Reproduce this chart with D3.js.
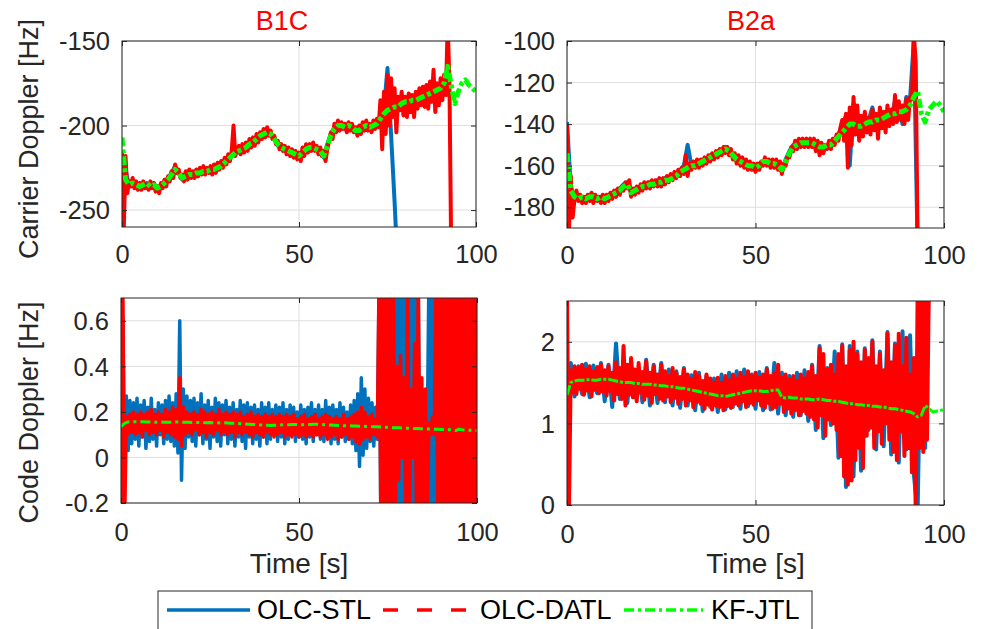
<!DOCTYPE html>
<html>
<head>
<meta charset="utf-8">
<script src="https://cdn.jsdelivr.net/npm/d3@7"></script>
<style>
  body { margin: 0; background: #fff; }
  svg { display: block; }
  text { font-family: "Liberation Sans", Arial, Helvetica, sans-serif; fill: #262626; }
</style>
</head>
<body>
<svg id="chart" width="982" height="629"></svg>
<script>
// ---- tick labels -------------------------------------------------------
const timeTicks = [0, 50, 100];
const b1cCarrierTicks = [-250, -200, -150];
const b2aCarrierTicks = [-180, -160, -140, -120, -100];
const b1cCodeTicks = [-0.2, 0, 0.2, 0.4, 0.6];
const b2aCodeTicks = [0, 1, 2];

const seriesNames = ["OLC-STL", "OLC-DATL", "KF-JTL"];
const panelTitles = ["B1C", "B2a"];

// ---- B1C carrier Doppler [Hz] -------------------------------------------
// OLC-STL, one sample per second
const b1cCarrierStl = [
  -250, -226, -236, -234, -237, -235, -236, -234, -237, -234,
  -238, -235, -233, -231, -228, -224, -228, -232, -229, -230,
  -228, -229, -227, -228, -226, -228, -225, -226, -223, -223,
  -219, -218, -213, -216, -213, -214, -210, -211, -207, -207,
  -204, -203, -206, -207, -212, -212, -215, -214, -217, -216,
  -219, -215, -215, -212, -214, -213, -216, -219, -211, -205,
  -201, -201, -199, -202, -199, -202, -202, -204, -200, -201,
  -200, -201, -198, -195, -190, -166, -205, -245, -290
];
// OLC-DATL, two samples per second
const b1cCarrierDatl = [
  -215, -262, -218, -240, -233, -236, -231, -237, -233, -238,
  -234, -238, -233, -237, -235, -238, -233, -237, -234, -239,
  -236, -240, -234, -237, -232, -236, -230, -233, -227, -231,
  -223, -228, -226, -231, -229, -233, -227, -232, -226, -231,
  -227, -231, -226, -230, -225, -229, -224, -229, -225, -228,
  -224, -229, -223, -228, -222, -226, -221, -225, -219, -223,
  -217, -221, -215, -200, -218, -214, -212, -217, -211, -216,
  -210, -215, -208, -213, -207, -212, -205, -210, -204, -208,
  -202, -207, -201, -206, -203, -208, -206, -211, -209, -214,
  -211, -215, -212, -217, -213, -218, -214, -219, -215, -220,
  -216, -221, -213, -218, -211, -216, -211, -215, -210, -215,
  -212, -217, -213, -218, -215, -221, -214, -209, -204, -208,
  -199, -204, -197, -203, -198, -202, -199, -204, -198, -203,
  -199, -204, -201, -206, -200, -205, -198, -203, -197, -203,
  -199, -204, -197, -202, -196, -201, -185, -214, -180, -205,
  -170, -200, -172, -195, -178, -204, -183, -191, -180, -194,
  -183, -195, -181, -192, -182, -195, -180, -190, -178, -188,
  -177, -189, -176, -190, -174, -186, -167, -192, -175, -188,
  -172, -185, -170, -182, -140, -175, -275
];
// KF-JTL, one sample per second
const b1cCarrierJtl = [
  -207, -232, -235, -234, -235, -236, -235, -234, -236, -235,
  -237, -236, -234, -232, -229, -226, -228, -231, -230, -229,
  -229, -228, -228, -227, -227, -226, -226, -225, -224, -222,
  -220, -218, -216, -215, -214, -213, -211, -210, -208, -206,
  -205, -204, -205, -208, -211, -213, -214, -215, -216, -217,
  -218, -216, -214, -213, -213, -214, -215, -218, -212, -206,
  -202, -200, -200, -201, -200, -201, -203, -203, -201, -200,
  -201, -200, -199, -196, -193, -191, -190, -189, -189, -187,
  -186, -186, -185, -185, -184, -183, -182, -181, -180, -179,
  -178, -175, -165, -176, -187, -180, -175, -173, -176, -178,
  -180
];

// ---- B2a carrier Doppler [Hz] -------------------------------------------
const b2aCarrierStl = [
  -139, -170, -176, -175, -176, -175, -176, -174, -176, -175,
  -176, -175, -173, -172, -171, -169, -168, -173, -171, -171,
  -169, -170, -168, -169, -167, -168, -166, -167, -165, -165,
  -162, -160, -150, -160, -159, -159, -157, -157, -155, -155,
  -153, -153, -151, -153, -155, -157, -158, -159, -160, -161,
  -161, -159, -158, -158, -159, -160, -160, -163, -157, -153,
  -150, -150, -148, -149, -148, -148, -150, -151, -152, -150,
  -150, -147, -145, -140, -136, -160, -130, -142, -140, -142,
  -138, -132, -140, -137, -138, -134, -137, -129, -133, -140,
  -127, -128, -100, -200
];
const b2aCarrierDatl = [
  -140, -192, -165, -185, -176, -172, -177, -174, -178, -175,
  -178, -174, -177, -173, -178, -174, -177, -175, -178, -174,
  -178, -174, -177, -173, -176, -172, -175, -171, -174, -170,
  -172, -168, -171, -167, -175, -171, -174, -170, -173, -169,
  -172, -168, -171, -168, -171, -167, -170, -167, -170, -166,
  -170, -166, -169, -165, -168, -164, -167, -163, -166, -162,
  -165, -161, -164, -155, -165, -159, -162, -158, -161, -157,
  -161, -157, -160, -156, -159, -155, -158, -154, -157, -153,
  -156, -152, -155, -151, -154, -151, -155, -152, -157, -154,
  -159, -155, -160, -156, -161, -157, -162, -158, -162, -159,
  -163, -159, -162, -158, -160, -156, -160, -157, -161, -157,
  -161, -157, -162, -158, -164, -159, -160, -156, -156, -151,
  -153, -148, -152, -147, -151, -147, -151, -147, -151, -147,
  -151, -147, -153, -148, -155, -149, -154, -150, -152, -148,
  -152, -147, -150, -145, -148, -142, -138, -148, -135, -161,
  -132, -150, -127, -145, -131, -148, -136, -146, -134, -144,
  -137, -145, -133, -143, -135, -147, -132, -142, -134, -144,
  -131, -141, -133, -140, -126, -139, -129, -138, -131, -140,
  -128, -138, -127, -128, -97, -110, -198
];
const b2aCarrierJtl = [
  -154, -172, -175, -176, -175, -176, -175, -175, -176, -175,
  -176, -175, -174, -173, -172, -170, -169, -173, -172, -171,
  -170, -170, -169, -169, -168, -168, -167, -167, -166, -165,
  -163, -162, -161, -160, -160, -159, -158, -157, -156, -155,
  -154, -153, -152, -153, -155, -157, -158, -159, -160, -160,
  -161, -160, -158, -158, -159, -159, -160, -162, -158, -154,
  -151, -150, -149, -149, -149, -149, -150, -151, -151, -150,
  -150, -148, -146, -144, -142, -140, -140, -141, -141, -140,
  -139, -139, -138, -138, -137, -136, -135, -135, -134, -134,
  -133, -131, -127, -124, -135, -139, -133, -131, -129, -131,
  -134
];

// ---- B1C code Doppler [Hz] ----------------------------------------------
// OLC-STL, two samples per second
const b1cCodeStl = [
  0.10, 0.62, -0.05, 0.27, 0.03, 0.25, 0.06, 0.24, 0.08, 0.26,
  0.05, 0.23, 0.09, 0.25, 0.04, 0.22, 0.07, 0.26, 0.08, 0.21,
  0.05, 0.24, 0.10, 0.23, 0.06, 0.25, 0.08, 0.27, 0.07, 0.24,
  0.05, 0.28, 0.02, 0.60, -0.10, 0.30, 0.04, 0.27, 0.09, 0.25,
  0.07, 0.26, 0.05, 0.24, 0.10, 0.28, 0.06, 0.23, 0.08, 0.25,
  0.04, 0.22, 0.09, 0.26, 0.07, 0.24, 0.05, 0.23, 0.10, 0.25,
  0.06, 0.22, 0.08, 0.24, 0.05, 0.21, 0.09, 0.25, 0.07, 0.23,
  0.04, 0.24, 0.09, 0.22, 0.06, 0.23, 0.08, 0.21, 0.05, 0.24,
  0.09, 0.22, 0.06, 0.24, 0.08, 0.21, 0.10, 0.23, 0.07, 0.22,
  0.09, 0.24, 0.06, 0.21, 0.08, 0.23, 0.10, 0.22, 0.07, 0.20,
  0.09, 0.23, 0.08, 0.21, 0.06, 0.22, 0.09, 0.24, 0.07, 0.21,
  0.10, 0.23, 0.08, 0.21, 0.07, 0.25, 0.09, 0.22, 0.06, 0.23,
  0.08, 0.21, 0.06, 0.24, 0.09, 0.22, 0.07, 0.20, 0.08, 0.23,
  0.06, 0.25, 0.03, 0.28, -0.04, 0.35, 0.01, 0.30, 0.04, 0.26,
  0.07, 0.24, 0.05, 0.22, 0.08, 0.75, -0.30, 0.70, -0.25, 0.68,
  -0.30, 0.72, -0.28, 0.65, -0.30, 0.80, -0.30, 0.75, -0.25, 0.80,
  -0.30, 0.78, -0.30, 0.70, -0.25, 0.80, -0.30, 0.75, -0.30, 0.20,
  0.10, 0.25, 0.05, 0.80, -0.30, 0.80, -0.30, 0.80, -0.30, 0.20,
  0.10, 0.25, 0.05, 0.22, 0.08, 0.30, -0.10, 0.25, 0.00, 0.20,
  0.05, 0.28, -0.05, 0.25, 0.02, 0.30, -0.10, 0.22, 0.05, 0.25,
  0.10
];
const b1cCodeDatl = [
  -0.30, 0.80, -0.30, 0.18, 0.10, 0.19, 0.11, 0.20, 0.10, 0.19,
  0.11, 0.20, 0.09, 0.19, 0.12, 0.20, 0.10, 0.21, 0.11, 0.19,
  0.10, 0.20, 0.12, 0.19, 0.09, 0.21, 0.11, 0.20, 0.10, 0.22,
  0.09, 0.21, 0.08, 0.35, 0.05, 0.22, 0.10, 0.20, 0.11, 0.19,
  0.10, 0.20, 0.12, 0.19, 0.10, 0.21, 0.11, 0.20, 0.09, 0.19,
  0.11, 0.20, 0.10, 0.19, 0.12, 0.21, 0.10, 0.19, 0.11, 0.20,
  0.10, 0.19, 0.11, 0.20, 0.09, 0.19, 0.11, 0.20, 0.10, 0.18,
  0.11, 0.19, 0.10, 0.20, 0.09, 0.18, 0.11, 0.19, 0.10, 0.18,
  0.09, 0.19, 0.11, 0.18, 0.10, 0.19, 0.09, 0.18, 0.10, 0.19,
  0.11, 0.18, 0.09, 0.19, 0.10, 0.18, 0.09, 0.19, 0.10, 0.17,
  0.09, 0.18, 0.10, 0.19, 0.09, 0.17, 0.10, 0.18, 0.09, 0.19,
  0.10, 0.17, 0.09, 0.18, 0.10, 0.19, 0.08, 0.18, 0.09, 0.17,
  0.10, 0.18, 0.08, 0.17, 0.09, 0.19, 0.10, 0.17, 0.08, 0.18,
  0.09, 0.19, 0.07, 0.20, 0.06, 0.22, 0.08, 0.20, 0.09, 0.18,
  0.08, 0.19, 0.10, 0.17, 0.09, 0.80, -0.30, 0.85, -0.35, 0.80,
  -0.30, 0.80, -0.35, 0.85, -0.30, 0.40, -0.10, 0.45, 0.00, 0.35,
  -0.30, 0.80, -0.30, 0.30, 0.00, 0.50, -0.30, 0.80, -0.30, 0.35,
  -0.30, 0.30, -0.30, 0.15, 0.10, 0.18, 0.10, 0.80, -0.30, 0.85,
  -0.35, 0.80, -0.30, 0.85, -0.30, 0.80, -0.35, 0.85, -0.30, 0.80,
  -0.30, 0.85, -0.35, 0.80, -0.30, 0.85, -0.30, 0.80, -0.35, 0.85,
  -0.30
];
// KF-JTL, one sample per second
const b1cCodeJtl = [
  0.135, 0.150, 0.156, 0.157, 0.157, 0.156, 0.157, 0.156, 0.156, 0.155,
  0.155, 0.156, 0.155, 0.155, 0.154, 0.155, 0.156, 0.155, 0.154, 0.154,
  0.153, 0.154, 0.153, 0.153, 0.152, 0.153, 0.152, 0.152, 0.151, 0.152,
  0.151, 0.150, 0.150, 0.149, 0.148, 0.147, 0.146, 0.145, 0.144, 0.143,
  0.142, 0.141, 0.140, 0.141, 0.142, 0.143, 0.143, 0.144, 0.145, 0.145,
  0.144, 0.144, 0.145, 0.145, 0.146, 0.146, 0.145, 0.144, 0.143, 0.142,
  0.141, 0.140, 0.140, 0.139, 0.139, 0.138, 0.138, 0.137, 0.137, 0.136,
  0.136, 0.135, 0.135, 0.134, 0.133, 0.132, 0.131, 0.130, 0.130, 0.129,
  0.128, 0.128, 0.127, 0.127, 0.126, 0.126, 0.125, 0.125, 0.124, 0.124,
  0.123, 0.123, 0.122, 0.121, 0.118, 0.124, 0.121, 0.120, 0.119, 0.119,
  0.118
];

// ---- B2a code Doppler [Hz] ----------------------------------------------
// OLC-STL, one sample per second
const b2aCodeStl = [
  0.20, 1.74, 1.33, 1.70, 1.36, 1.73, 1.32, 1.71, 1.37, 1.74,
  1.27, 1.72, 1.20, 1.98, 1.30, 1.78, 1.25, 1.76, 1.32, 1.65,
  1.26, 1.78, 1.22, 1.72, 1.25, 1.74, 1.26, 1.66, 1.22, 1.64,
  1.19, 1.68, 1.22, 1.59, 1.16, 1.62, 1.15, 1.58, 1.20, 1.55,
  1.14, 1.60, 1.17, 1.62, 1.20, 1.64, 1.18, 1.66, 1.21, 1.60,
  1.18, 1.63, 1.16, 1.68, 1.17, 1.74, 1.12, 1.62, 1.10, 1.58,
  1.08, 1.62, 1.10, 1.65, 1.03, 1.72, 0.92, 1.95, 0.82, 1.68,
  0.98, 1.88, 0.58, 1.97, 0.22, 1.95, 0.35, 1.88, 0.42, 1.92,
  0.92, 2.02, 0.68, 1.88, 0.72, 2.12, 0.62, 1.98, 0.52, 2.13,
  0.68, 2.08, 0.38, -0.10, 2.60, 0.70, 2.80
];
// OLC-DATL, two samples per second
const b2aCodeDatl = [
  2.60, -0.10, 1.65, 1.38, 1.70, 1.36, 1.68, 1.42, 1.72, 1.35,
  1.66, 1.40, 1.70, 1.33, 1.64, 1.41, 1.69, 1.37, 1.72, 1.39,
  1.65, 1.34, 1.70, 1.40, 1.62, 1.28, 1.75, 1.36, 1.68, 1.30,
  1.95, 1.22, 1.72, 1.35, 1.80, 1.32, 1.66, 1.27, 1.74, 1.38,
  1.63, 1.29, 1.76, 1.34, 1.62, 1.25, 1.70, 1.36, 1.60, 1.30,
  1.72, 1.28, 1.64, 1.33, 1.58, 1.26, 1.68, 1.31, 1.62, 1.24,
  1.57, 1.30, 1.66, 1.22, 1.60, 1.28, 1.55, 1.20, 1.63, 1.26,
  1.58, 1.24, 1.52, 1.18, 1.60, 1.23, 1.55, 1.17, 1.50, 1.22,
  1.56, 1.20, 1.50, 1.16, 1.58, 1.21, 1.53, 1.19, 1.60, 1.24,
  1.55, 1.22, 1.62, 1.27, 1.57, 1.20, 1.64, 1.25, 1.58, 1.23,
  1.62, 1.28, 1.56, 1.22, 1.60, 1.19, 1.66, 1.25, 1.58, 1.18,
  1.62, 1.20, 1.72, 1.24, 1.56, 1.14, 1.60, 1.18, 1.54, 1.12,
  1.58, 1.16, 1.52, 1.10, 1.60, 1.15, 1.55, 1.12, 1.63, 1.08,
  1.70, 1.05, 1.58, 0.95, 1.92, 1.10, 1.85, 0.85, 1.66, 1.05,
  1.72, 1.00, 1.60, 0.92, 1.85, 0.60, 1.95, 0.35, 1.70, 0.25,
  1.90, 0.30, 2.00, 0.55, 1.85, 0.70, 1.75, 0.45, 1.90, 0.85,
  1.80, 0.95, 2.00, 0.70, 1.70, 0.90, 1.85, 0.75, 1.65, 1.00,
  2.10, 0.80, 1.75, 0.65, 1.95, 0.55, 2.10, 0.90, 1.70, 0.60,
  2.05, 0.70, 1.60, 0.40, 1.80, -0.10, 2.60, 0.70, 2.60, 0.65,
  2.70, 0.80, 2.80
];
// KF-JTL, one sample per second
const b2aCodeJtl = [
  1.35, 1.50, 1.52, 1.53, 1.53, 1.53, 1.54, 1.53, 1.53, 1.54,
  1.54, 1.54, 1.53, 1.52, 1.51, 1.50, 1.50, 1.50, 1.49, 1.49,
  1.48, 1.48, 1.48, 1.47, 1.47, 1.46, 1.46, 1.45, 1.45, 1.44,
  1.43, 1.43, 1.42, 1.41, 1.40, 1.39, 1.38, 1.37, 1.36, 1.35,
  1.34, 1.34, 1.33, 1.34, 1.35, 1.36, 1.37, 1.38, 1.39, 1.40,
  1.40, 1.40, 1.39, 1.39, 1.40, 1.41, 1.41, 1.32, 1.31, 1.32,
  1.31, 1.31, 1.30, 1.30, 1.30, 1.29, 1.29, 1.30, 1.29, 1.28,
  1.28, 1.27, 1.27, 1.26, 1.25, 1.24, 1.24, 1.23, 1.23, 1.22,
  1.22, 1.21, 1.21, 1.20, 1.20, 1.19, 1.18, 1.18, 1.17, 1.16,
  1.15, 1.14, 1.12, 1.08, 1.10, 1.22, 1.18, 1.14, 1.15, 1.16,
  1.17
];

// ---- styling ------------------------------------------------------------
const colors = { stl: "#0072BD", datl: "#FF0000", jtl: "#00FF00" };
const axisColor = "#262626";
const gridColor = "#dedede";

// pair each value with its sample time (seconds)
const sampled = (values, step) => values.map((v, i) => [i * step, v]);

const panels = [
  { title: panelTitles[0], titleX: 282, ylabel: "Carrier Doppler [Hz]",
    box: { x0: 122, x1: 476, y0: 41, y1: 227 }, yDomain: [-260, -150], yTicks: b1cCarrierTicks,
    xLabelPad: 18, lineWidth: 4, greenWidth: 5, greenDash: "9,3,4,3",
    lines: [ [b1cCarrierStl, 1, "stl"], [b1cCarrierDatl, 0.5, "datl"], [b1cCarrierJtl, 1, "jtl"] ] },
  { title: panelTitles[1], titleX: 751,
    box: { x0: 567, x1: 944, y0: 41, y1: 228 }, yDomain: [-190, -100], yTicks: b2aCarrierTicks,
    xLabelPad: 18, lineWidth: 4, greenWidth: 5, greenDash: "9,3,4,3",
    lines: [ [b2aCarrierStl, 1, "stl"], [b2aCarrierDatl, 0.5, "datl"], [b2aCarrierJtl, 1, "jtl"] ] },
  { ylabel: "Code Doppler [Hz]", xlabel: "Time [s]",
    box: { x0: 121, x1: 477, y0: 298, y1: 503 }, yDomain: [-0.2, 0.7], yTicks: b1cCodeTicks,
    xLabelPad: 20, lineWidth: 3.5, greenWidth: 3, greenDash: "10,4,3,4",
    lines: [ [b1cCodeStl, 0.5, "stl"], [b1cCodeDatl, 0.5, "datl"], [b1cCodeJtl, 1, "jtl"] ] },
  { xlabel: "Time [s]",
    box: { x0: 567, x1: 944, y0: 301, y1: 505 }, yDomain: [0, 2.5], yTicks: b2aCodeTicks,
    xLabelPad: 20, lineWidth: 4, greenWidth: 3, greenDash: "10,2,3,2",
    lines: [ [b2aCodeStl, 1, "stl"], [b2aCodeDatl, 0.5, "datl"], [b2aCodeJtl, 1, "jtl"] ] }
];

const svg = d3.select("#chart");
svg.append("rect").attr("width", 982).attr("height", 629).attr("fill", "#fff");

panels.forEach((p, k) => {
  const b = p.box;
  const x = d3.scaleLinear().domain([0, 100]).range([b.x0, b.x1]);
  const y = d3.scaleLinear().domain(p.yDomain).range([b.y1, b.y0]);
  const g = svg.append("g");

  // grid
  g.append("g").selectAll("line").data(timeTicks).join("line")
    .attr("x1", d => x(d)).attr("x2", d => x(d)).attr("y1", b.y0).attr("y2", b.y1)
    .attr("stroke", gridColor).attr("stroke-width", 1);
  g.append("g").selectAll("line").data(p.yTicks).join("line")
    .attr("x1", b.x0).attr("x2", b.x1).attr("y1", d => y(d)).attr("y2", d => y(d))
    .attr("stroke", gridColor).attr("stroke-width", 1);

  // data
  const clipId = "clip" + k;
  svg.append("clipPath").attr("id", clipId).append("rect")
    .attr("x", b.x0).attr("y", b.y0).attr("width", b.x1 - b.x0).attr("height", b.y1 - b.y0);
  const dataG = g.append("g").attr("clip-path", `url(#${clipId})`);
  const line = d3.line().x(d => x(d[0])).y(d => y(d[1]));
  p.lines.forEach(([vals, step, key]) => {
    const path = dataG.append("path")
      .attr("d", line(sampled(vals, step)))
      .attr("fill", "none")
      .attr("stroke", colors[key])
      .attr("stroke-linejoin", "round")
      .attr("stroke-width", key === "jtl" ? p.greenWidth : p.lineWidth);
    if (key === "jtl") path.attr("stroke-dasharray", p.greenDash);
  });

  // axes (ticks point inward, box on)
  const fmt = d => String(d);
  const axB = g.append("g").attr("transform", `translate(0,${b.y1})`)
    .call(d3.axisBottom(x).tickValues(timeTicks).tickFormat(fmt).tickSizeInner(-5).tickSizeOuter(0).tickPadding(p.xLabelPad));
  const axT = g.append("g").attr("transform", `translate(0,${b.y0})`)
    .call(d3.axisTop(x).tickValues(timeTicks).tickFormat("").tickSizeInner(-5).tickSizeOuter(0));
  const axL = g.append("g").attr("transform", `translate(${b.x0},0)`)
    .call(d3.axisLeft(y).tickValues(p.yTicks).tickFormat(fmt).tickSizeInner(-5).tickSizeOuter(0).tickPadding(12));
  const axR = g.append("g").attr("transform", `translate(${b.x1},0)`)
    .call(d3.axisRight(y).tickValues(p.yTicks).tickFormat("").tickSizeInner(-5).tickSizeOuter(0));
  [axB, axT, axL, axR].forEach(a => {
    a.select(".domain").remove();
    a.selectAll("line").attr("stroke", axisColor);
    a.selectAll("text").attr("fill", axisColor).style("font-size", "25.5px")
      .style("font-family", '"Liberation Sans", Arial, sans-serif');
  });
  axL.selectAll("text").attr("dy", "0.34em");

  g.append("rect").attr("x", b.x0).attr("y", b.y0)
    .attr("width", b.x1 - b.x0).attr("height", b.y1 - b.y0)
    .attr("fill", "none").attr("stroke", axisColor).attr("stroke-width", 1);

  if (p.title) {
    g.append("text").attr("x", p.titleX).attr("y", 30).attr("text-anchor", "middle")
      .style("font-size", "27px").style("fill", "#FF0000").text(p.title);
  }
  if (p.ylabel) {
    g.append("text").attr("transform", `translate(38,${(b.y0 + b.y1) / 2 + (k === 0 ? 5 : 12)}) rotate(-90)`)
      .attr("text-anchor", "middle").style("font-size", "27px").text(p.ylabel);
  }
  if (p.xlabel) {
    g.append("text").attr("x", (b.x0 + b.x1) / 2).attr("y", 573).attr("text-anchor", "middle")
      .style("font-size", "28px").text(p.xlabel);
  }
});

// ---- legend ---------------------------------------------------------------
const legend = svg.append("g");
legend.append("rect").attr("x", 158).attr("y", 591).attr("width", 654).attr("height", 60)
  .attr("fill", "#fff").attr("stroke", axisColor).attr("stroke-width", 1);
const legendItems = [
  { key: "stl", x1: 167, x2: 250, tx: 257, dash: null },
  { key: "datl", x1: 383, x2: 466, tx: 480, dash: "15,19" },
  { key: "jtl", x1: 624, x2: 703, tx: 711, dash: "10,4,3,4" }
];
legendItems.forEach((it, i) => {
  const l = legend.append("line").attr("x1", it.x1).attr("x2", it.x2).attr("y1", 610).attr("y2", 610)
    .attr("stroke", colors[it.key]).attr("stroke-width", 3.5);
  if (it.dash) l.attr("stroke-dasharray", it.dash);
  legend.append("text").attr("x", it.tx).attr("y", 619).style("font-size", "27px")
    .style("fill", "#000").text(seriesNames[i]);
});
</script>
</body>
</html>
